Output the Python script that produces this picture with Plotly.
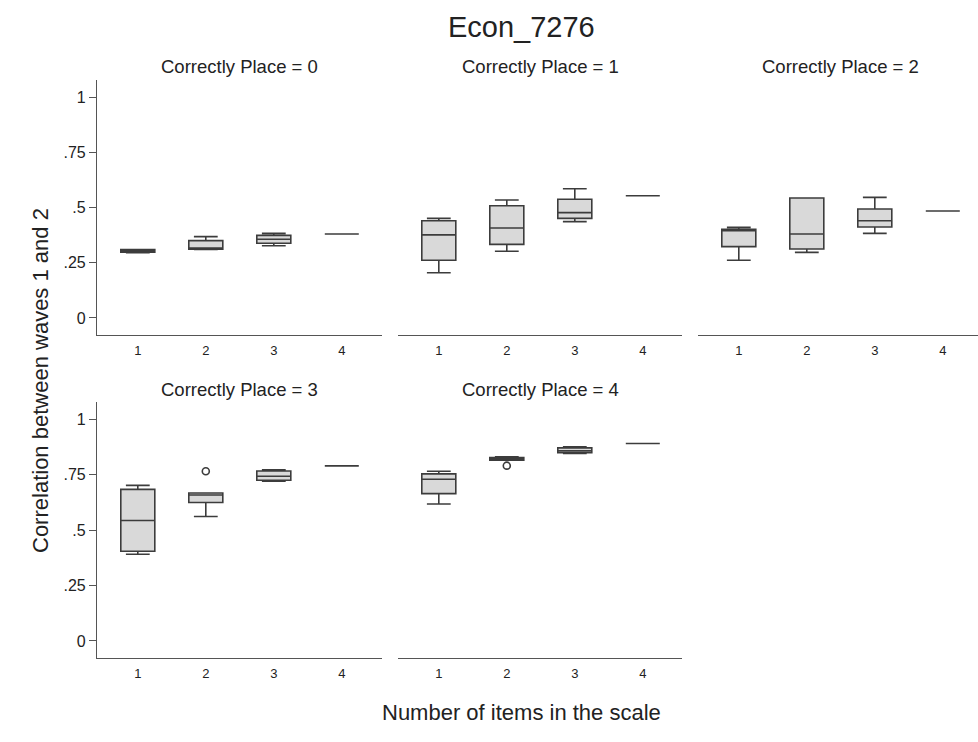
import plotly.graph_objects as go

# ---- data ----
categories = [1, 2, 3, 4]
panel_titles = ["Correctly Place = 0", "Correctly Place = 1", "Correctly Place = 2",
                "Correctly Place = 3", "Correctly Place = 4"]

lower_p = [[0.296, 0.310, 0.327, 0.380],
           [0.205, 0.302, 0.436, 0.553],
           [0.261, 0.297, 0.383, 0.484],
           [0.391, 0.561, 0.720, 0.789],
           [0.617, 0.815, 0.845, 0.890]]
q1_p = [[0.298, 0.311, 0.338, 0.380],
        [0.261, 0.333, 0.451, 0.553],
        [0.323, 0.312, 0.412, 0.484],
        [0.404, 0.624, 0.724, 0.789],
        [0.664, 0.815, 0.849, 0.890]]
med_p = [[0.303, 0.317, 0.356, 0.380],
         [0.376, 0.407, 0.477, 0.553],
         [0.395, 0.380, 0.440, 0.484],
         [0.543, 0.658, 0.742, 0.789],
         [0.729, 0.822, 0.857, 0.890]]
q3_p = [[0.310, 0.350, 0.374, 0.380],
        [0.440, 0.508, 0.537, 0.553],
        [0.401, 0.543, 0.493, 0.484],
        [0.683, 0.667, 0.766, 0.789],
        [0.753, 0.827, 0.870, 0.890]]
upper_p = [[0.310, 0.368, 0.383, 0.380],
           [0.451, 0.534, 0.585, 0.553],
           [0.410, 0.543, 0.546, 0.484],
           [0.701, 0.667, 0.771, 0.789],
           [0.765, 0.830, 0.875, 0.890]]
# outliers: (panel index, category, value)
outlier_panel = [3, 4]
outlier_cat = [2, 2]
outlier_val = [0.765, 0.790]

ytick_vals = [0, 0.25, 0.5, 0.75, 1]
ytick_text = ["0", ".25", ".5", ".75", "1"]

# ---- layout geometry (pixels -> paper) ----
W, H = 978, 742
FONT = "Arial, Liberation Sans, sans-serif"
BOX_FILL = "#d9d9d9"
LINE_C = "#3c3c3c"

x_dom_px = [(97, 382), (398, 682), (698, 978), (97, 382), (398, 682)]
y_dom_px = [(80, 335), (80, 335), (80, 335), (402, 658), (402, 658)]
unit_px = 68.0

fig = go.Figure()
layout = dict(
    width=W, height=H,
    margin=dict(l=0, r=0, t=0, b=0),
    paper_bgcolor="white", plot_bgcolor="white",
    showlegend=False,
    font=dict(family=FONT, color="#222"),
)
annotations = []

for i in range(5):
    ax = "" if i == 0 else str(i + 1)
    xa, ya = "x" + ax, "y" + ax
    fig.add_trace(go.Box(
        x=categories,
        q1=q1_p[i], median=med_p[i], q3=q3_p[i],
        lowerfence=lower_p[i], upperfence=upper_p[i],
        xaxis=xa, yaxis=ya,
        fillcolor=BOX_FILL,
        line=dict(color=LINE_C, width=1.6),
        width=0.5, whiskerwidth=0.7,
        boxpoints=False, hoverinfo="skip",
    ))
    ox = [c for p, c in zip(outlier_panel, outlier_cat) if p == i]
    oy = [v for p, v in zip(outlier_panel, outlier_val) if p == i]
    if ox:
        fig.add_trace(go.Scatter(
            x=ox, y=oy, mode="markers", xaxis=xa, yaxis=ya,
            marker=dict(symbol="circle-open", size=7, color=LINE_C, line=dict(width=1.6)),
            hoverinfo="skip",
        ))
    x0, x1 = x_dom_px[i]
    y0, y1 = y_dom_px[i]
    width_px = x1 - x0
    xr = [0.4, 0.4 + width_px / unit_px]
    left = i in (0, 3)
    layout["xaxis" + ax] = dict(
        domain=[x0 / W, x1 / W], range=xr, anchor=ya,
        tickvals=categories, ticktext=[str(c) for c in categories],
        showline=True, linecolor="#555", linewidth=1.2,
        showgrid=False, zeroline=False,
        ticks="outside", ticklen=3, tickcolor="rgba(0,0,0,0)",
        tickfont=dict(size=13, color="#222", family=FONT),
        fixedrange=True,
    )
    layout["yaxis" + ax] = dict(
        domain=[1 - y1 / H, 1 - y0 / H], range=[-0.077, 1.077], anchor=xa,
        tickvals=ytick_vals, ticktext=ytick_text,
        showticklabels=left, showline=left, linecolor="#555", linewidth=1.2,
        ticks="outside" if left else "", ticklen=7, tickcolor="#555",
        showgrid=False, zeroline=False,
        tickfont=dict(size=16, color="#222", family=FONT),
        fixedrange=True,
    )
    annotations.append(dict(
        text=panel_titles[i], x=(x0 + 285 / 2) / W,
        y=1 - (y0 - 13) / H, xref="paper", yref="paper",
        showarrow=False, xanchor="center", yanchor="middle",
        font=dict(size=18.5, color="#222", family=FONT),
    ))

annotations.append(dict(
    text="Econ_7276", x=521 / W, y=1 - 27 / H, xref="paper", yref="paper",
    showarrow=False, xanchor="center", yanchor="middle",
    font=dict(size=29, color="#222", family=FONT),
))
annotations.append(dict(
    text="Number of items in the scale", x=521 / W, y=1 - 712 / H, xref="paper", yref="paper",
    showarrow=False, xanchor="center", yanchor="middle",
    font=dict(size=22, color="#222", family=FONT),
))
annotations.append(dict(
    text="Correlation between waves 1 and 2", x=40 / W, y=1 - 381 / H, xref="paper", yref="paper",
    showarrow=False, xanchor="center", yanchor="middle", textangle=-90,
    font=dict(size=22, color="#222", family=FONT),
))
layout["annotations"] = annotations
fig.update_layout(**layout)
fig.write_html("out.html")
